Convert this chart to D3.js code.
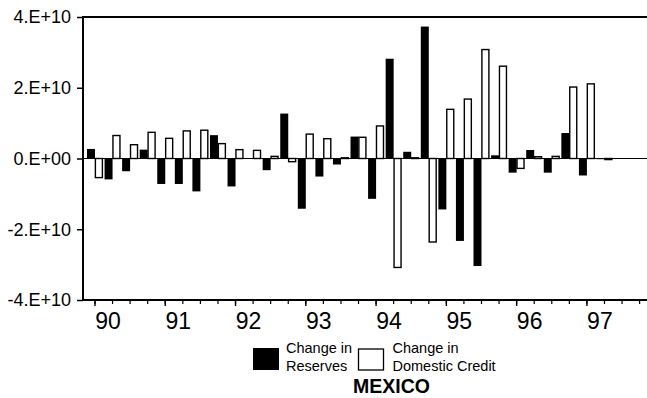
<!DOCTYPE html>
<html>
<head>
<meta charset="utf-8">
<script src="https://cdn.jsdelivr.net/npm/d3@7/dist/d3.min.js"></script>
<style>
  html, body { margin: 0; padding: 0; background: #fff; }
  svg { display: block; font-family: "Liberation Sans", Arial, sans-serif; }
</style>
</head>
<body>
<svg id="chart" width="647" height="398"></svg>
<script>
// Quarterly observations, 1990Q1 .. 1997Q4
const quarters = [
  "90Q1","90Q2","90Q3","90Q4","91Q1","91Q2","91Q3","91Q4",
  "92Q1","92Q2","92Q3","92Q4","93Q1","93Q2","93Q3","93Q4",
  "94Q1","94Q2","94Q3","94Q4","95Q1","95Q2","95Q3","95Q4",
  "96Q1","96Q2","96Q3","96Q4","97Q1","97Q2","97Q3","97Q4"
];

// Change in reserves (billions)
const reserves = [
  2.7, -5.9, -3.6, 2.5, -7.2, -7.2, -9.3, 6.6,
  -7.9, 0.0, -3.3, 12.7, -14.2, -5.1, -1.7, 6.2,
  -11.4, 28.2, 1.9, 37.3, -14.4, -23.3, -30.4, 0.9,
  -4.0, 2.4, -4.0, 7.2, -4.8, -0.2, null, null
];

// Change in domestic credit (billions)
const credit = [
  -5.4, 6.5, 3.9, 7.4, 5.7, 7.8, 8.0, 4.2,
  2.5, 2.3, 0.6, -0.9, 6.9, 5.6, 0.2, 6.0,
  9.2, -30.8, 0.2, -23.6, 13.9, 16.8, 30.8, 26.1,
  -2.8, 0.5, 0.6, 20.2, 21.1, -0.3, null, null
];

const yTicks = [-4e10, -2e10, 0, 2e10, 4e10];
const yTickLabels = ["-4.E+10", "-2.E+10", "0.E+00", "2.E+10", "4.E+10"];
const yearTicks = ["90Q1","91Q1","92Q1","93Q1","94Q1","95Q1","96Q1","97Q1"];
const yearLabels = ["90","91","92","93","94","95","96","97"];

const title = "MEXICO";

const svg = d3.select("#chart");

const plot = { left: 83, right: 650, top: 17, bottom: 300 };

const x = d3.scaleBand()
  .domain(quarters)
  .range([86.2, 648.4])
  .padding(0);

const y = d3.scaleLinear()
  .domain([-4e10, 4e10])
  .range([plot.bottom, plot.top]);

const toUnits = v => v * 1e9;
const y0 = y(0);

// bars: reserves (solid) left of each quarter tick, credit (outlined) right of it
const barW = 8;
const g = svg.append("g");

quarters.forEach((q, i) => {
  const cx = x(q) + x.bandwidth() / 2;
  const r = reserves[i];
  if (r !== null) {
    const v = toUnits(r);
    g.append("rect")
      .attr("x", cx - barW)
      .attr("width", barW)
      .attr("y", Math.min(y(v), y0))
      .attr("height", Math.abs(y(v) - y0))
      .attr("fill", "#000");
  }
  const c = credit[i];
  if (c !== null) {
    const v = toUnits(c);
    g.append("rect")
      .attr("x", cx + 0.4)
      .attr("width", barW - 1)
      .attr("y", Math.min(y(v), y0))
      .attr("height", Math.abs(y(v) - y0))
      .attr("fill", "#fff")
      .attr("stroke", "#000")
      .attr("stroke-width", 1.4);
  }
});

// zero line
svg.append("line")
  .attr("x1", plot.left).attr("x2", plot.right)
  .attr("y1", y0).attr("y2", y0)
  .attr("stroke", "#000").attr("stroke-width", 1.2);

// frame: left, top and bottom edges
svg.append("path")
  .attr("d", `M${plot.right},${plot.top}H${plot.left}V${plot.bottom}H${plot.right}`)
  .attr("fill", "none")
  .attr("stroke", "#000")
  .attr("stroke-width", 2);

// y axis
const yAxis = d3.axisLeft(y)
  .tickValues(yTicks)
  .tickSize(6)
  .tickSizeOuter(0)
  .tickPadding(6)
  .tickFormat((d, i) => yTickLabels[i]);

const ya = svg.append("g")
  .attr("transform", `translate(${plot.left},0)`)
  .call(yAxis);
ya.select(".domain").remove();
ya.selectAll("line").attr("stroke", "#000").attr("stroke-width", 1.5);
ya.selectAll("text")
  .attr("font-size", 18)
  .attr("font-family", "Liberation Sans, Arial, sans-serif")
  .attr("fill", "#000");

// x axis: quarter ticks
const xMinor = d3.axisBottom(x)
  .tickValues(quarters)
  .tickSize(4)
  .tickSizeOuter(0)
  .tickFormat("");
const xm = svg.append("g")
  .attr("transform", `translate(0,${plot.bottom})`)
  .call(xMinor);
xm.select(".domain").remove();
xm.selectAll("line").attr("stroke", "#000").attr("stroke-width", 1.2);

// x axis: year ticks with labels
const xMajor = d3.axisBottom(x)
  .tickValues(yearTicks)
  .tickSize(6)
  .tickSizeOuter(0)
  .tickPadding(6)
  .tickFormat((d, i) => yearLabels[i]);
const xM = svg.append("g")
  .attr("transform", `translate(0,${plot.bottom})`)
  .call(xMajor);
xM.select(".domain").remove();
xM.selectAll("line").attr("stroke", "#000").attr("stroke-width", 1.4);
xM.selectAll("text")
  .attr("font-size", 23)
  .attr("font-family", "Liberation Sans, Arial, sans-serif")
  .attr("fill", "#000")
  .attr("dx", 13)
  .attr("dy", "0.72em");

// legend
const legend = svg.append("g");
legend.append("rect")
  .attr("x", 253).attr("y", 348).attr("width", 26).attr("height", 22)
  .attr("fill", "#000");
legend.append("text")
  .attr("x", 286).attr("y", 352.5)
  .attr("font-size", 14.5).attr("fill", "#000")
  .text("Change in");
legend.append("text")
  .attr("x", 286).attr("y", 370.5)
  .attr("font-size", 14.5).attr("fill", "#000")
  .text("Reserves");

legend.append("rect")
  .attr("x", 358.5).attr("y", 349).attr("width", 25).attr("height", 21)
  .attr("fill", "#fff").attr("stroke", "#000").attr("stroke-width", 1.3);
legend.append("text")
  .attr("x", 392.5).attr("y", 352.5)
  .attr("font-size", 14.5).attr("fill", "#000")
  .text("Change in");
legend.append("text")
  .attr("x", 392.5).attr("y", 370.5)
  .attr("font-size", 14.5).attr("fill", "#000")
  .text("Domestic Credit");

// title
svg.append("text")
  .attr("x", 391.5).attr("y", 393)
  .attr("text-anchor", "middle")
  .attr("font-size", 19.5)
  .attr("font-weight", "bold")
  .attr("fill", "#000")
  .text(title);
</script>
</body>
</html>
